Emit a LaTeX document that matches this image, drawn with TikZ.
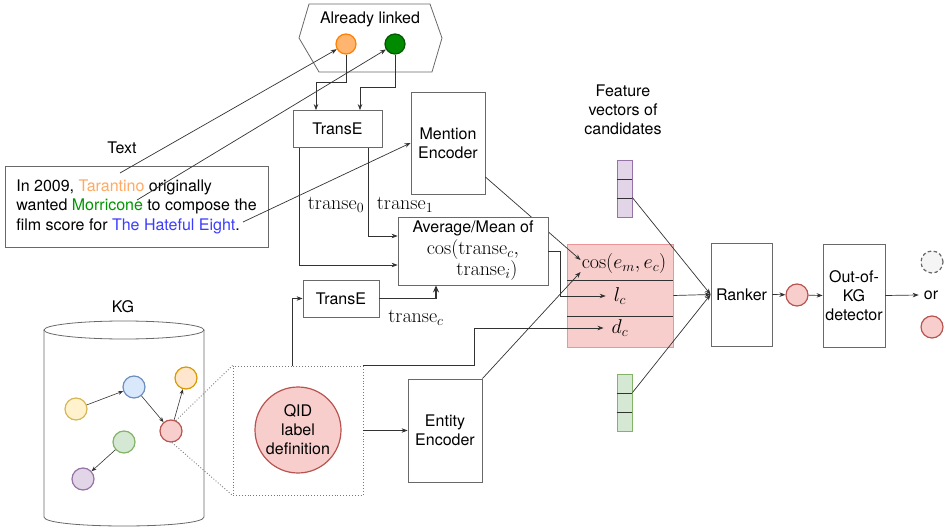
\RequirePackage{fix-cm}
\documentclass[tikz,border=0pt]{standalone}
\usepackage[no-math]{fontspec}
\setmainfont{TeX Gyre Heros}
\usetikzlibrary{arrows.meta,calc}
\definecolor{boxgray}{RGB}{105,105,105}
\definecolor{linegray}{RGB}{50,50,50}
\definecolor{dotgray}{RGB}{120,120,120}
\definecolor{orfill}{RGB}{255,181,112}
\definecolor{ordraw}{RGB}{255,128,0}
\definecolor{grfill}{RGB}{0,138,0}
\definecolor{grdraw}{RGB}{0,87,0}
\definecolor{tarc}{RGB}{255,170,100}
\definecolor{morc}{RGB}{0,150,0}
\definecolor{hatec}{RGB}{60,60,255}
\definecolor{redfill}{RGB}{248,206,204}
\definecolor{reddraw}{RGB}{184,84,80}
\definecolor{featdraw}{RGB}{234,150,150}
\definecolor{yelfill}{RGB}{255,242,204}
\definecolor{yeldraw}{RGB}{214,182,86}
\definecolor{bluefill}{RGB}{218,232,252}
\definecolor{bluedraw}{RGB}{108,142,191}
\definecolor{oranfill}{RGB}{255,230,204}
\definecolor{orandraw}{RGB}{215,155,0}
\definecolor{gnfill}{RGB}{213,232,212}
\definecolor{gndraw}{RGB}{130,179,102}
\definecolor{pufill}{RGB}{225,213,231}
\definecolor{pudraw}{RGB}{150,115,166}
\definecolor{greyfill}{RGB}{245,245,245}
\definecolor{greydraw}{RGB}{102,102,102}
\tikzset{
  base/.style={font=\fontsize{16}{19}\selectfont, text=black},
  box/.style={base, draw=boxgray, line width=0.8pt, fill=white, align=center, inner sep=2pt},
  conn/.style={draw=linegray, line width=0.7pt, -{Stealth[length=6pt,width=4.5pt]}},
  thickconn/.style={draw=linegray, line width=1.4pt, -{Stealth[length=7pt,width=6pt]}},
  plainline/.style={draw=linegray, line width=0.7pt},
  mlbl/.style={font=\fontsize{20}{23}\selectfont, inner sep=1pt},
  kgn/.style={circle, minimum size=22pt, inner sep=0pt, line width=1.2pt},
  cell/.style={minimum width=15pt, minimum height=19pt, inner sep=0pt, line width=0.8pt},
}
\begin{document}
\begin{tikzpicture}[x=1pt,y=-1pt]
\useasboundingbox (0,0) rectangle (947,529);

% Already linked
\draw[boxgray, line width=0.8pt, fill=white] (309,4) -- (430,4) -- (442,38) -- (432,72) -- (319,72) -- (299,38) -- cycle;
\node[base] (allab) at (370,19) {Already linked};
\node[kgn, fill=orfill, draw=ordraw, minimum size=20pt] (oc) at (346,44) {};
\node[kgn, fill=grfill, draw=grdraw, minimum size=20pt] (gc) at (395,44) {};

% Text
\node[base] (textlab) at (122,148) {Text};
\node[box, align=left, minimum width=263pt, minimum height=81pt, font=\fontsize{16}{19.5}\selectfont] (tb) at (136.5,206.5)
  {In 2009, \textcolor{tarc}{Tarantino} originally\\wanted \textcolor{morc}{Morricone} to compose the\\film score for \textcolor{hatec}{The Hateful Eight}.};
\coordinate (tar) at (120,173);
\coordinate (mor) at (137,200);
\coordinate (hate) at (243,222);

% TransE top
\node[box, minimum width=89pt, minimum height=37pt] (t1) at (337.5,129) {TransE};
\draw[conn] (oc.south) -- ++(0,28) -| ([xshift=-21.5pt]t1.north);
\draw[conn] (gc.south) -- ++(0,33) -| ([xshift=22.5pt]t1.north);
\draw[conn] (tar) -- (oc);
\draw[conn] (mor) -- (gc);

% Mention encoder
\node[box, minimum width=74pt, minimum height=102pt] (me) at (448,143) {Mention\\Encoder};
\draw[conn] (hate) -- (me.west);

% Feature box
\node[base, align=center] (fvl) at (623,110) {Feature\\vectors of\\candidates};
\node[draw=featdraw, fill=redfill, line width=0.8pt, minimum width=106pt, minimum height=103pt, inner sep=0pt] (feat) at (620,295.5) {};
\draw[plainline] (567,280) -- (673,280);
\draw[plainline] (567,316) -- (673,316);
\node[mlbl] (cos) at (624,264) {$\cos(e_m,e_c)$};
\node[mlbl, inner xsep=8pt] (lc) at (620,296) {$l_c$};
\node[mlbl, inner xsep=8pt] (dc) at (620,328) {$d_c$};

% mention -> cos (passes behind average box)
\draw[conn] ([yshift=-34pt]me.east) -- ([yshift=4pt]cos.west);

% Average box
\node[box, minimum width=150pt, minimum height=68pt, inner sep=1pt, font=\fontsize{16}{21.5}\selectfont] (avg) at (473,251)
  {Average/Mean of\\{\fontsize{20}{23}\selectfont$\cos(\mathrm{transe}_c,$}\\{\fontsize{20}{23}\selectfont\hspace*{1.4em}$\mathrm{transe}_i)$}};
\draw[conn] ([xshift=-38.5pt]t1.south) |- ([yshift=-14pt]avg.west);
\draw[conn] ([xshift=30.5pt]t1.south) |- ([yshift=15pt]avg.west);
\node[mlbl] (tr0) at (336,205) {$\mathrm{transe}_0$};
\node[mlbl] (tr1) at (405,205) {$\mathrm{transe}_1$};
\draw[conn] (avg.east) -- ++(12,0) |- (lc.west);

% TransE low
\node[box, minimum width=76pt, minimum height=37pt] (t2) at (341,298.5) {TransE};
\draw[thickconn] (t2.east) -| ([xshift=-37pt]avg.south);
\node[mlbl] (trc) at (416,318) {$\mathrm{transe}_c$};

% KG cylinder
\node[base] (kglab) at (123,307) {KG};
\draw[boxgray, line width=0.8pt] (124,330) ellipse [x radius=80, y radius=9];
\draw[boxgray, line width=0.8pt] (44,330) -- (44,517) .. controls (44,529) and (204,529) .. (204,517) -- (204,330);
\node[kgn, fill=yelfill, draw=yeldraw] (ky) at (76,409) {};
\node[kgn, fill=bluefill, draw=bluedraw] (kb) at (134,387) {};
\node[kgn, fill=oranfill, draw=orandraw] (ko) at (186,378) {};
\node[kgn, fill=redfill, draw=reddraw] (kr) at (171,431) {};
\node[kgn, fill=gnfill, draw=gndraw] (kg) at (124,442) {};
\node[kgn, fill=pufill, draw=pudraw] (kp) at (83,479) {};
\begin{scope}[every path/.style={draw=linegray, line width=0.6pt, -{Stealth[length=5pt,width=4pt]}}]
\draw (ky) -- (kb);
\draw (kb) -- (kr);
\draw (kr) -- (ko);
\draw (kg) -- (kp);
\end{scope}

% QID box
\node[draw=dotgray, dotted, line width=0.9pt, minimum width=130pt, minimum height=129pt, inner sep=0pt] (qbox) at (298,430.5) {};
\node[base, circle, fill=redfill, draw=reddraw, line width=1.2pt, minimum size=86pt, inner sep=0pt, align=center] (qid) at (298,430) {QID\\label\\definition};
\draw[dotgray, dotted, line width=0.9pt] (kr.65) -- (qbox.north west);
\draw[dotgray, dotted, line width=0.9pt] (kr.-85) -- (qbox.south west);
\draw[conn] ([xshift=-6pt]qbox.north) |- (t2.west);
\draw[conn] (qbox.north east) -- ++(111,0) |- (dc.west);

% Entity encoder
\node[box, minimum width=74pt, minimum height=103pt] (ee) at (445,430.5) {Entity\\Encoder};
\draw[conn] (qbox.east) -- (ee.west);
\draw[conn] (ee.north east) -- ([yshift=-8pt]cos.west);

% Candidate vectors
\node[cell, fill=pufill, draw=pudraw] (pv1) at (624.5,169.5) {};
\node[cell, fill=pufill, draw=pudraw] (pv2) at (624.5,188.5) {};
\node[cell, fill=pufill, draw=pudraw] (pv3) at (624.5,207.5) {};
\node[cell, fill=gnfill, draw=gndraw] (gv1) at (624.5,383.5) {};
\node[cell, fill=gnfill, draw=gndraw] (gv2) at (624.5,402.5) {};
\node[cell, fill=gnfill, draw=gndraw] (gv3) at (624.5,421.5) {};
\draw[plainline] (pv1.south west) -- (pv1.south east);
\draw[plainline] (pv2.south west) -- (pv2.south east);
\draw[plainline] (gv1.south west) -- (gv1.south east);
\draw[plainline] (gv2.south west) -- (gv2.south east);

% Ranker
\node[box, minimum width=61pt, minimum height=103pt] (ranker) at (741.5,294.5) {Ranker};
\draw[conn] (pv3.north east) -- (ranker.west);
\draw[conn] (gv2.north east) -- (ranker.west);
\draw[conn] (feat.east) -- (ranker.west);
\node[kgn, fill=redfill, draw=reddraw] (rc) at (797,295) {};
\draw[conn] (ranker.east) -- (rc);

% Out-of-KG
\node[box, minimum width=62pt, minimum height=103pt] (ookg) at (854,295.5) {Out-of-\\KG\\detector};
\draw[conn] (rc) -- (ookg.west);
\node[base, inner xsep=5pt] (or) at (931,295) {or};
\draw[conn] (ookg.east) -- (or.west);
\node[kgn, fill=greyfill, draw=greydraw, dash pattern=on 3.5pt off 2.5pt] (nc) at (932,262) {};
\node[kgn, fill=redfill, draw=reddraw] (yc) at (932,327) {};
\end{tikzpicture}
\end{document}
